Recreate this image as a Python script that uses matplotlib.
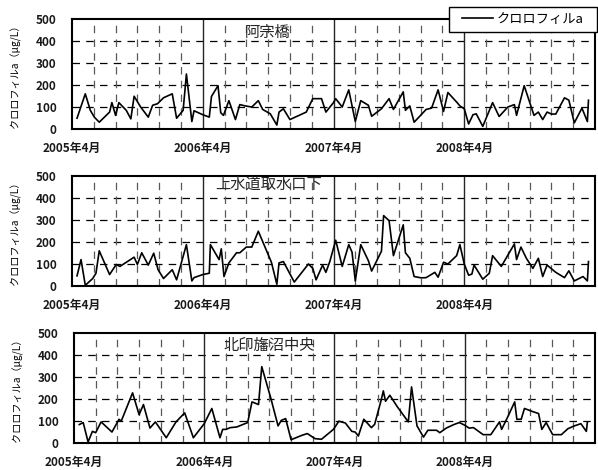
import matplotlib.pyplot as plt
from matplotlib.patches import Rectangle

plt.rcParams['font.family'] = ['Noto Sans CJK JP', 'DejaVu Sans']

# months since 2005-04 (x), chlorophyll-a in ug/L (y)
aso_m = [0.46, 1.22, 1.68, 2.05, 2.5, 3.45, 3.66, 4.0, 4.3, 4.98, 5.4, 5.7, 6.3, 7.0, 7.4,
         7.85, 8.4, 9.2, 9.6, 10.2, 10.5, 11.0, 11.2, 12.0, 12.6, 12.8, 13.4, 13.65, 13.9,
         14.4, 15.0, 15.4, 15.9, 16.5, 17.1, 17.5, 18.2, 18.8, 19.0, 19.4, 20.0, 21.5, 22.1,
         22.9, 23.3, 24.0, 24.2, 24.8, 25.4, 26.0, 26.5, 27.2, 27.5, 28.4, 29.1, 29.5, 30.4,
         30.6, 31.0, 31.4, 32.5, 33.0, 33.6, 34.1, 34.5, 35.4, 35.6, 36.0, 36.4, 36.8, 37.1,
         37.7, 38.6, 39.2, 40.0, 40.6, 40.8, 41.5, 42.4, 42.8, 43.2, 43.6, 44.0, 44.4, 45.2,
         45.6, 46.1, 46.8, 47.3, 47.4]
aso_v = [49, 160, 85, 54, 31, 77, 120, 62, 120, 85, 46, 149, 100, 54, 108,
         115, 142, 160, 49, 85, 250, 34, 83, 65, 54, 148, 197, 74, 62,
         129, 43, 111, 105, 100, 129, 89, 69, 18, 77, 92, 43, 77, 138,
         138, 77, 120, 138, 100, 178, 34, 129, 108, 58, 92, 138, 89, 169,
         85, 105, 31, 89, 95, 178, 80, 166, 117, 105, 92, 23, 65, 69,
         12, 120, 57, 100, 111, 62, 197, 62, 77, 43, 77, 68, 68, 142,
         131, 28, 95, 34, 131]

josui_m = [0.46, 0.83, 1.22, 1.9, 2.2, 2.5, 3.45, 4.06, 4.4, 5.7, 6.0, 6.4, 7.0, 7.5, 7.9,
           8.4, 9.2, 9.6, 10.5, 11.0, 11.2, 12.0, 12.6, 12.7, 13.5, 13.7, 13.95, 14.4, 15.1,
           15.4, 16.0, 16.5, 17.1, 18.3, 18.8, 19.0, 19.4, 20.4, 21.7, 22.1, 22.4, 23.0, 23.3,
           23.66, 24.2, 24.8, 25.4, 25.7, 26.0, 26.5, 27.2, 27.5, 28.4, 28.6, 29.1, 29.5, 30.4,
           30.6, 31.0, 31.4, 32.05, 32.5, 33.3, 33.6, 34.1, 34.5, 35.3, 35.6, 36.0, 36.4, 36.7,
           36.9, 37.7, 38.3, 38.6, 39.4, 40.6, 40.8, 41.2, 41.7, 42.3, 42.8, 43.2, 43.6, 44.4,
           45.2, 45.6, 46.1, 46.9, 47.3, 47.4]
josui_v = [46, 120, 3, 34, 58, 160, 52, 98, 89, 131, 98, 151, 95, 149, 74,
           34, 74, 28, 188, 23, 38, 52, 58, 188, 120, 169, 43, 105, 151,
           151, 177, 177, 249, 108, 8, 105, 111, 18, 100, 80, 28, 95, 62,
           111, 208, 89, 188, 154, 23, 188, 115, 68, 158, 320, 297, 138, 278,
           151, 126, 43, 37, 38, 62, 40, 108, 100, 138, 188, 100, 49, 54,
           95, 31, 58, 138, 89, 191, 120, 177, 126, 80, 126, 43, 95, 62,
           38, 69, 23, 43, 23, 111]

kita_m = [0.49, 0.85, 1.3, 1.7, 2.0, 2.5, 3.5, 4.15, 4.35, 5.4, 6.0, 6.4, 7.0, 7.5, 8.5,
          9.4, 10.2, 11.0, 12.0, 12.7, 13.45, 13.7, 14.0, 14.4, 15.0, 16.0, 16.4, 17.0, 17.3,
          18.1, 18.8, 19.1, 19.5, 20.0, 21.0, 21.5, 22.2, 22.8, 23.9, 24.4, 25.0, 25.6, 25.9,
          26.2, 26.7, 27.4, 27.7, 28.3, 28.5, 28.7, 29.1, 29.8, 30.8, 31.1, 31.6, 32.2, 32.6,
          33.4, 33.7, 34.3, 35.0, 35.5, 36.0, 36.4, 36.8, 37.7, 38.4, 39.2, 39.4, 40.0, 40.6,
          40.8, 41.2, 41.5, 42.2, 42.8, 43.1, 43.5, 44.1, 44.9, 45.5, 46.1, 46.7, 47.2, 47.3]
kita_v = [84, 93, 5, 53, 47, 96, 50, 108, 99, 228, 129, 175, 68, 96, 24,
          96, 137, 24, 88, 157, 24, 62, 62, 70, 73, 93, 187, 175, 347,
          210, 78, 103, 111, 15, 35, 43, 20, 17, 62, 99, 91, 53, 50,
          32, 108, 70, 85, 195, 237, 190, 217, 164, 96, 255, 78, 27, 58,
          58, 47, 68, 84, 93, 81, 68, 70, 38, 38, 96, 62, 123, 187,
          108, 108, 157, 144, 134, 62, 93, 38, 38, 65, 78, 88, 53, 96]

stations = ['阿宗橋', '上水道取水口下', '北印旛沼中央']
year_labels = ['2005年4月', '2006年4月', '2007年4月', '2008年4月']
year_pos = [0, 12, 24, 36]
series = [(aso_m, aso_v), (josui_m, josui_v), (kita_m, kita_v)]

fig = plt.figure(figsize=(5.98, 4.70), dpi=100)
rects = [[0.1204, 0.7255, 0.8746, 0.2340],
         [0.1204, 0.3915, 0.8746, 0.2340],
         [0.1237, 0.0574, 0.8713, 0.2340]]
title_y = [0.88, 0.92, 0.89]

handles = []
for i, (rect, (m, v)) in enumerate(zip(rects, series)):
    ax = fig.add_axes(rect)
    ax.set_xlim(0, 48)
    ax.set_ylim(0, 500)
    # dashed grid
    for yv in [100, 200, 300, 400]:
        ax.axhline(yv, color='black', lw=0.9, dashes=(6, 5), zorder=1)
    for xv in range(2, 48, 2):
        if xv % 12 != 0:
            ax.axvline(xv, color='0.35', lw=0.9, dashes=(6, 5), zorder=1)
    for xv in [12, 24, 36]:
        ax.axvline(xv, color='0.15', lw=1.0, zorder=1)
    line, = ax.plot(m, v, color='black', lw=1.2, zorder=3, label='クロロフィルa')
    handles.append(line)
    ax.set_yticks(range(0, 501, 100))
    ax.set_xticks(year_pos)
    ax.set_xticklabels(year_labels)
    ax.tick_params(axis='y', length=0, pad=11, labelsize=8.5)
    ax.tick_params(axis='x', length=0, pad=9, labelsize=8.5)
    for lab in ax.get_xticklabels() + ax.get_yticklabels():
        lab.set_fontweight('bold')
        lab.set_color('0.1')
    for s in ax.spines.values():
        s.set_linewidth(1.5)
    ax.set_ylabel('クロロフィルa（μg/L）', fontsize=7.3)
    ax.yaxis.set_label_coords(-0.097, 0.5)
    ax.text(0.375, title_y[i], stations[i], transform=ax.transAxes, ha='center', va='center',
            fontsize=11, color='0.15')

# legend box on top of the first panel
box = Rectangle((449 / 598, 1 - 32 / 470), 148 / 598, 25 / 470, transform=fig.transFigure,
                facecolor='white', edgecolor='black', lw=1.0, zorder=4)
fig.patches.append(box)
fig.legend(handles=[handles[0]], loc='center',
           bbox_to_anchor=(523 / 598, 1 - 19.5 / 470), frameon=False,
           fontsize=9.5, handlelength=2.3, handletextpad=0.3, borderpad=0,
           borderaxespad=0).set_zorder(5)

fig.savefig('out.png', dpi=100)
